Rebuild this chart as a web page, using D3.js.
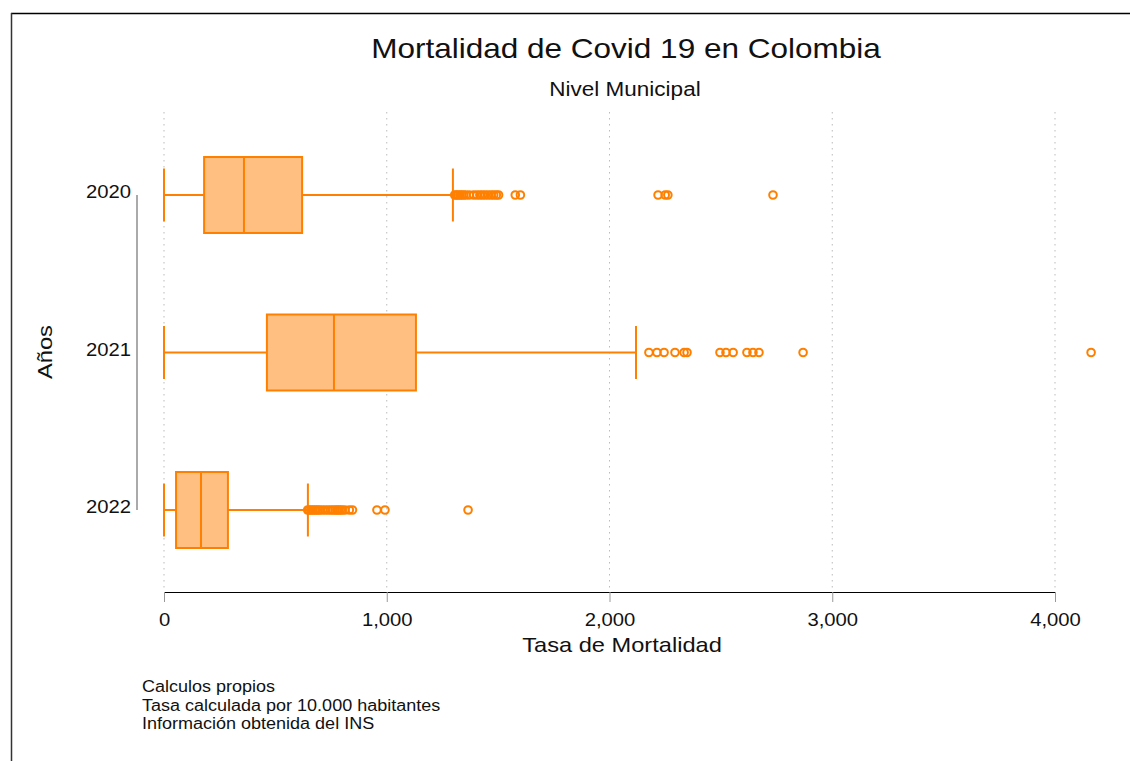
<!DOCTYPE html>
<html><head><meta charset="utf-8">
<script src="https://cdn.jsdelivr.net/npm/d3@7"></script>
<style>body{margin:0;background:#fff;} text{font-family:"Liberation Sans",Arial,sans-serif;}</style>
</head><body><svg id="c" width="1130" height="761"></svg>
<script>
const years = ["2020","2021","2022"];
const lowWhisker = [0, 0, 0];
const q1 = [180, 462, 54];
const median = [359, 763, 166];
const q3 = [620, 1131, 287];
const highWhisker = [1297, 2119, 646];
const outliers2020 = [1305,1312,1320,1328,1336,1345,1355,1370,1390,1405,1418,1430,1442,1455,1468,1480,1492,1502,1577,1600,2218,2250,2262,2734];
const outliers2021 = [2177,2213,2245,2294,2335,2348,2496,2523,2555,2617,2644,2671,2869,4162];
const outliers2022 = [645,652,660,668,676,684,692,700,712,724,736,748,758,768,776,784,792,800,812,832,846,956,992,1365];
const outliers = [outliers2020, outliers2021, outliers2022];
const xTicks = [0,1000,2000,3000,4000];

const svg = d3.select("#c");
const stroke = "#ff8000", fill = "#ffbf80";
const WIDEN = 1.125;
function widen(sel){
  sel.each(function(){
    const w = this.getComputedTextLength();
    d3.select(this).attr("textLength", w*WIDEN).attr("lengthAdjust","spacingAndGlyphs");
  });
}
// page frame
svg.append("line").attr("x1",11).attr("x2",1130).attr("y1",13.5).attr("y2",13.5).attr("stroke","#000").attr("stroke-width",1.5);
svg.append("line").attr("x1",11.5).attr("x2",11.5).attr("y1",13).attr("y2",761).attr("stroke","#333").attr("stroke-width",1.5);

const x = d3.scaleLinear().domain([0,4000]).range([164,1055]);
const y = d3.scalePoint().domain(years).range([195,510]);

// grid
svg.append("g").selectAll("line").data(xTicks).join("line")
  .attr("x1",d=>x(d)).attr("x2",d=>x(d)).attr("y1",112).attr("y2",592)
  .attr("stroke","#bbb").attr("stroke-width",1).attr("stroke-dasharray","1.5,4.5");

// x axis
const xa = svg.append("g").attr("transform","translate(0,592)")
  .call(d3.axisBottom(x).tickValues(xTicks).tickFormat(d3.format(",")).tickSize(10).tickPadding(11));
xa.select(".domain").attr("stroke","#000").attr("stroke-width",1.2).attr("d","M164,0.5H1055");
xa.selectAll(".tick line").attr("stroke","#999");
xa.selectAll(".tick text").attr("font-size",18).attr("fill","#111").attr("font-family","Liberation Sans, Arial, sans-serif").call(widen);

// y axis
svg.append("line").attr("x1",137).attr("x2",137).attr("y1",y("2020")).attr("y2",y("2022")).attr("stroke","#aaa").attr("stroke-width",2);
svg.append("g").selectAll("text").data(years).join("text")
  .attr("x",131).attr("y",d=>y(d)-3).attr("dy","0.35em").attr("text-anchor","end")
  .attr("font-size",18).attr("fill","#111").text(d=>d).call(widen);

// boxes
const boxH = 76, capH = 53;
years.forEach((yr,i)=>{
  const g = svg.append("g");
  const cy = y(yr);
  g.append("line").attr("x1",x(lowWhisker[i])).attr("x2",x(q1[i])).attr("y1",cy).attr("y2",cy).attr("stroke",stroke).attr("stroke-width",2);
  g.append("line").attr("x1",x(q3[i])).attr("x2",x(highWhisker[i])).attr("y1",cy).attr("y2",cy).attr("stroke",stroke).attr("stroke-width",2);
  [lowWhisker[i], highWhisker[i]].forEach(v=>{
    g.append("line").attr("x1",x(v)).attr("x2",x(v)).attr("y1",cy-capH/2).attr("y2",cy+capH/2).attr("stroke",stroke).attr("stroke-width",2);
  });
  g.append("rect").attr("x",x(q1[i])).attr("y",cy-boxH/2).attr("width",x(q3[i])-x(q1[i])).attr("height",boxH)
    .attr("fill",fill).attr("stroke",stroke).attr("stroke-width",2);
  g.append("line").attr("x1",x(median[i])).attr("x2",x(median[i])).attr("y1",cy-boxH/2).attr("y2",cy+boxH/2).attr("stroke",stroke).attr("stroke-width",2);
  g.selectAll("circle").data(outliers[i]).join("circle")
    .attr("cx",d=>x(d)).attr("cy",cy).attr("r",3.8)
    .attr("fill","none").attr("stroke",stroke).attr("stroke-width",2);
});

// titles
svg.append("text").attr("x",626).attr("y",58).attr("text-anchor","middle").attr("font-size",28).attr("fill","#111").text("Mortalidad de Covid 19 en Colombia").call(widen);
svg.append("text").attr("x",625).attr("y",96).attr("text-anchor","middle").attr("font-size",20).attr("fill","#111").text("Nivel Municipal").call(widen);
svg.append("text").attr("x",622).attr("y",652).attr("text-anchor","middle").attr("font-size",21).attr("fill","#111").text("Tasa de Mortalidad").call(widen);
svg.append("text").attr("transform","translate(52,352) rotate(-90)").attr("text-anchor","middle").attr("font-size",21).attr("fill","#111").text("Años").call(widen);

const notes = ["Calculos propios","Tasa calculada por 10.000 habitantes","Información obtenida del INS"];
svg.append("g").selectAll("text").data(notes).join("text")
  .attr("x",142).attr("y",(d,i)=>692+i*18.5).attr("font-size",16).attr("fill","#111").text(d=>d).call(widen);
</script></body></html>
